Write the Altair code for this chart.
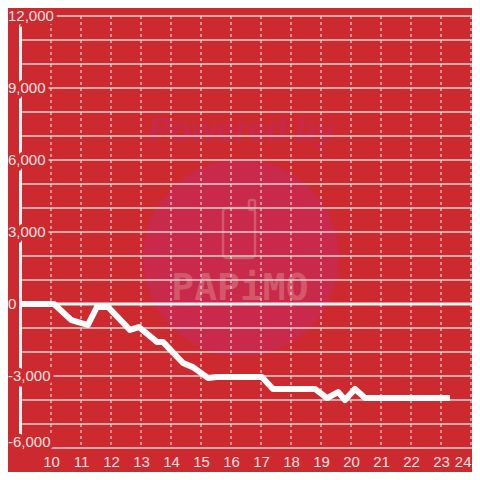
import altair as alt
import pandas as pd

BG = "#cd2a2f"
TXT = "#f3e0e0"

# data line (hour of day vs balance)
hours = [9.0, 10.1, 10.68, 11.23, 11.53, 11.9, 12.63, 12.93, 13.53, 13.73,
         14.4, 14.73, 15.23, 15.53, 17.03, 17.4, 18.8, 19.2, 19.57, 19.8,
         20.13, 20.47, 23.3]
balance = [0, 0, -670, -875, -125, -125, -1080, -960, -1580, -1580,
           -2460, -2630, -3080, -3040, -3040, -3540, -3540, -3920, -3670, -4000,
           -3540, -3920, -3920]

x_ticks = list(range(10, 25))
y_grid = list(range(-6000, 13000, 1000))
y_label_values = [-6000, -3000, 0, 3000, 6000, 9000, 12000]
y_label_texts = ["-6,000", "-3,000", "0", "3,000", "6,000", "9,000", "12,000"]
zero_line = [0]

line_df = pd.DataFrame({"h": hours, "v": balance, "i": range(len(hours))})
xs = alt.Scale(domain=[9, 24.033], nice=False, zero=False)
ys = alt.Scale(domain=[-6000, 12000], nice=False, zero=False)
x_axis = alt.Axis(values=x_ticks, grid=False, domain=False, ticks=False, format="d",
                  labelPadding=6, labelFontSize=15, labelFont="Liberation Sans",
                  labelColor=TXT, labelFlush=True, title=None)
one = pd.DataFrame({"a": [0]})

circle = alt.Chart(one).mark_circle(color="#c9294a", opacity=1, size=38400).encode(
    x=alt.value(220), y=alt.value(242))
powered = alt.Chart(one).mark_text(
    text="Powered by", font="Liberation Sans", fontSize=33, fontWeight="bold",
    fontStyle="italic", color="#c8294a").encode(x=alt.value(221), y=alt.value(115))
phone = alt.Chart(one).mark_rect(
    filled=False, stroke="#d4586c", strokeWidth=2.5, cornerRadius=4).encode(
    x=alt.value(202), x2=alt.value(234), y=alt.value(192), y2=alt.value(242))
phone_tab = alt.Chart(one).mark_rect(
    filled=False, stroke="#d4586c", strokeWidth=2.5, cornerRadius=2).encode(
    x=alt.value(228), x2=alt.value(234), y=alt.value(184), y2=alt.value(194))
brand = alt.Chart(one).mark_text(
    text="PAPiMO", font="DejaVu Sans Mono", fontSize=38, fontWeight="bold",
    color="#d4586c").encode(x=alt.value(219), y=alt.value(273))

hgrid = alt.Chart(pd.DataFrame({"g": y_grid})).mark_rule(
    color="#d2d2d2", strokeWidth=1.5).encode(y=alt.Y("g:Q", scale=ys, axis=None))
vgrid = alt.Chart(pd.DataFrame({"t": x_ticks})).mark_rule(
    color="#f2f2f2", strokeWidth=1, strokeDash=[3, 3]).encode(
    x=alt.X("t:Q", scale=xs, axis=x_axis))
zero = alt.Chart(pd.DataFrame({"z": zero_line})).mark_rule(
    color="#f6f6f6", strokeWidth=3).encode(y=alt.Y("z:Q", scale=ys, axis=None))
yaxis_line = alt.Chart(one).mark_rule(color="#f4f4f4", strokeWidth=3).encode(
    x=alt.value(-0.5), y=alt.value(0), y2=alt.value(432))

line = alt.Chart(line_df).mark_line(
    color="white", strokeWidth=6, strokeJoin="round", strokeCap="butt").encode(
    x=alt.X("h:Q", scale=xs, axis=x_axis),
    y=alt.Y("v:Q", scale=ys, axis=None),
    order="i:Q")

lab_df = pd.DataFrame({"v": y_label_values, "t": y_label_texts})
lab_base = alt.Chart(lab_df).transform_calculate(
    ly="datum.v == -6000 ? datum.v + 250 : datum.v")
lab_enc = dict(x=alt.value(-13),
               y=alt.Y("ly:Q", scale=ys, axis=None), text="t:N")
halo = lab_base.mark_text(align="left", baseline="middle", fontSize=15,
                          font="Liberation Sans", fill=BG, stroke=BG,
                          strokeWidth=7).encode(**lab_enc)
labels = lab_base.mark_text(align="left", baseline="middle", fontSize=15,
                            font="Liberation Sans", fill=TXT).encode(**lab_enc)

chart = alt.layer(
    circle, powered, phone, phone_tab, brand, hgrid, vgrid, zero, yaxis_line,
    line, halo, labels
).properties(
    width=451, height=432,
    autosize=alt.AutoSizeParams(type="none"),
    padding={"left": 13, "top": 8, "right": 0, "bottom": 24},
    background=BG,
).configure_view(stroke=None)

chart.save("out.html", embed_options={"renderer": "svg", "actions": False})
